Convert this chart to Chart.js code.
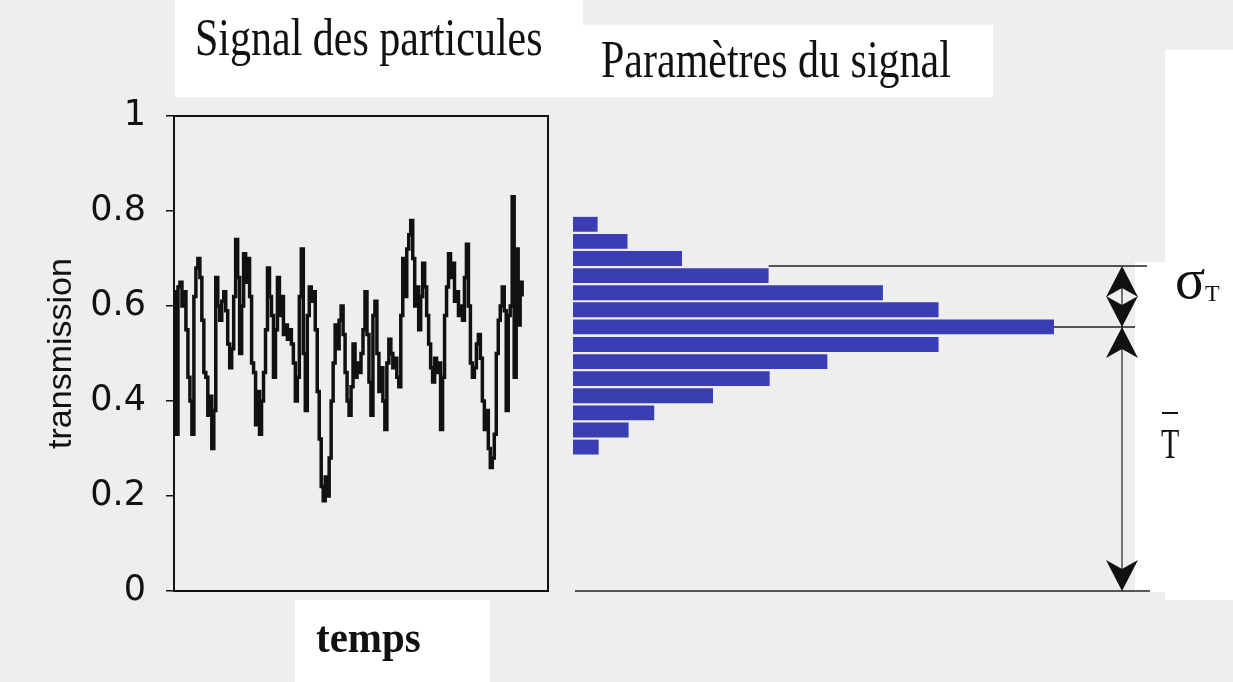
<!DOCTYPE html>
<html>
<head>
<meta charset="utf-8">
<script src="https://cdn.jsdelivr.net/npm/chart.js"></script>
<style>
  html, body { margin: 0; padding: 0; }
  body { width: 1233px; height: 682px; background: #eeeeec; position: relative; overflow: hidden; }
  .box { position: absolute; background: #ffffff; }
  .txt { position: absolute; line-height: 1; white-space: nowrap; color: #111; font-family: 'Liberation Serif', 'Times New Roman', serif; transform-origin: 0 0; }
  canvas { position: absolute; top: 0; }
</style>
</head>
<body>
<div class="box" style="left:175px;top:0;width:408px;height:97px"></div>
<div class="box" style="left:583px;top:25px;width:410px;height:72px"></div>
<div class="box" style="left:295px;top:600px;width:195px;height:82px"></div>
<div class="box" style="left:1165px;top:50px;width:68px;height:550px"></div>
<div class="box" style="left:1135px;top:262px;width:30px;height:330px"></div>

<canvas id="signalChart" width="560" height="682" style="left:0"></canvas>
<canvas id="histChart" width="673" height="682" style="left:560px"></canvas>

<div class="txt" style="left:195px;top:11px;font-size:42px;transform:scaleY(1.25)">Signal des particules</div>
<div class="txt" style="left:601px;top:33px;font-size:42px;transform:scaleY(1.25)">Paramètres du signal</div>
<div class="txt" style="left:316px;top:615px;font-size:41px;font-weight:bold;transform:scaleY(1.1)">temps</div>
<div class="txt" style="left:1175px;top:251px;font-size:56px">σ</div>
<div class="txt" style="left:1205px;top:281px;font-size:24px">T</div>
<div class="txt" style="left:1161px;top:423px;font-size:30px;transform:scaleY(1.4)">T</div>
<div style="position:absolute;left:1162px;top:412px;width:16px;height:2px;background:#111"></div>

<script>
// Signal values (transmission over time) left to right
const signalValues = [
    0.63, 0.33, 0.64, 0.65, 0.60, 0.63, 0.55, 0.45, 0.40, 0.33,
    0.62, 0.68, 0.70, 0.66, 0.57, 0.46, 0.45, 0.37, 0.41, 0.30,
    0.38, 0.66, 0.60, 0.57, 0.61, 0.63, 0.59, 0.52, 0.47, 0.51,
    0.62, 0.74, 0.66, 0.50, 0.60, 0.71, 0.65, 0.70, 0.62, 0.48,
    0.46, 0.35, 0.42, 0.33, 0.40, 0.46, 0.55, 0.68, 0.62, 0.58,
    0.45, 0.55, 0.66, 0.58, 0.62, 0.54, 0.56, 0.53, 0.55, 0.52,
    0.48, 0.40, 0.45, 0.62, 0.72, 0.50, 0.38, 0.58, 0.64, 0.61,
    0.63, 0.55, 0.42, 0.32, 0.22, 0.19, 0.24, 0.20, 0.28, 0.40,
    0.48, 0.56, 0.51, 0.57, 0.60, 0.54, 0.46, 0.40, 0.37, 0.43,
    0.52, 0.45, 0.48, 0.46, 0.50, 0.55, 0.63, 0.54, 0.44, 0.37,
    0.58, 0.61, 0.50, 0.42, 0.47, 0.40, 0.34, 0.48, 0.53, 0.50,
    0.47, 0.49, 0.45, 0.43, 0.58, 0.70, 0.62, 0.72, 0.75, 0.78,
    0.70, 0.60, 0.64, 0.55, 0.62, 0.69, 0.64, 0.58, 0.52, 0.47,
    0.44, 0.49, 0.46, 0.48, 0.34, 0.45, 0.58, 0.64, 0.71, 0.66,
    0.69, 0.61, 0.63, 0.58, 0.60, 0.57, 0.66, 0.73, 0.60, 0.48,
    0.45, 0.47, 0.52, 0.54, 0.49, 0.40, 0.34, 0.38, 0.30, 0.26,
    0.28, 0.33, 0.50, 0.57, 0.60, 0.64, 0.59, 0.38, 0.58, 0.60,
    0.83, 0.45, 0.72, 0.56, 0.65, 0.62
];

// Histogram of the signal: bin centres (transmission) and counts, top to bottom
const binCenters = [0.772, 0.736, 0.700, 0.664, 0.628, 0.592, 0.556, 0.519, 0.483, 0.447, 0.411, 0.375, 0.339, 0.303];
const binCounts = [2.3, 5.1, 10.2, 18.3, 29.0, 34.2, 45.0, 34.2, 23.8, 18.4, 13.1, 7.6, 5.2, 2.4];

// Signal parameters
const meanT = 0.556;
const sigmaT = 0.128;

// Y axis ticks
const yTickValues = [0, 0.2, 0.4, 0.6, 0.8, 1];
const yTickLabels = ['0', '0.2', '0.4', '0.6', '0.8', '1'];

const INK = '#111111';

// Frame around the signal plot
const framePlugin = {
    id: 'frame',
    afterDraw(chart) {
        const { ctx, chartArea: a } = chart;
        ctx.save();
        ctx.strokeStyle = INK;
        ctx.lineWidth = 2;
        ctx.strokeRect(a.left, a.top, a.right - a.left, a.bottom - a.top);
        ctx.restore();
    }
};

function arrowHead(ctx, x, tipY, dir) {
    // dir = -1 points up, +1 points down
    const len = 31, half = 16, notch = 9;
    ctx.beginPath();
    ctx.moveTo(x, tipY);
    ctx.lineTo(x - half, tipY - dir * len);
    ctx.lineTo(x, tipY - dir * (len - notch));
    ctx.lineTo(x + half, tipY - dir * len);
    ctx.closePath();
    ctx.fill();
}

// Mean / sigma reference lines and arrows on the histogram side
const paramPlugin = {
    id: 'params',
    afterDatasetsDraw(chart) {
        const { ctx } = chart;
        const xs = chart.scales.x, ys = chart.scales.y;
        const yZero = ys.getPixelForValue(0);
        const yMean = ys.getPixelForValue(meanT);
        const ySig = ys.getPixelForValue(meanT + sigmaT);
        const arrowX = 562;

        ctx.save();
        ctx.strokeStyle = '#222';
        ctx.lineWidth = 1.5;
        ctx.beginPath();
        ctx.moveTo(xs.getPixelForValue(0) + 2, yZero);
        ctx.lineTo(590, yZero);
        ctx.moveTo(xs.getPixelForValue(binCounts[3]), ySig);
        ctx.lineTo(587, ySig);
        ctx.moveTo(xs.getPixelForValue(Math.max(...binCounts)), yMean);
        ctx.lineTo(575, yMean);
        ctx.stroke();

        ctx.lineWidth = 1.2;
        ctx.beginPath();
        ctx.moveTo(arrowX, ySig + 10);
        ctx.lineTo(arrowX, yZero - 10);
        ctx.stroke();

        ctx.fillStyle = INK;
        arrowHead(ctx, arrowX, ySig, -1);
        arrowHead(ctx, arrowX, yMean, 1);
        arrowHead(ctx, arrowX, yMean, -1);
        arrowHead(ctx, arrowX, yZero, 1);
        ctx.restore();
    }
};

new Chart(document.getElementById('signalChart'), {
    type: 'line',
    data: {
        datasets: [{
            data: signalValues.map((v, i) => ({ x: i, y: v })),
            stepped: true,
            borderColor: INK,
            borderWidth: 3.5,
            pointRadius: 0
        }]
    },
    options: {
        responsive: false,
        animation: false,
        layout: { padding: { top: 116, bottom: 91, left: 0, right: 12 } },
        plugins: {
            legend: { display: false },
            tooltip: { enabled: false }
        },
        scales: {
            x: { type: 'linear', min: 0, max: 188, display: false },
            y: {
                min: 0,
                max: 1,
                afterBuildTicks(scale) {
                    scale.ticks = yTickValues.map(v => ({ value: v }));
                },
                afterFit(scale) {
                    scale.width = 174;
                },
                ticks: {
                    color: INK,
                    padding: 20,
                    font: { family: 'DejaVu Sans', size: 35 },
                    callback: (v) => yTickLabels[yTickValues.indexOf(v)]
                },
                grid: { drawOnChartArea: false, tickLength: 8, color: INK, lineWidth: 1.5 },
                border: { color: INK, width: 2 },
                title: {
                    display: true,
                    text: 'transmission',
                    color: INK,
                    font: { family: 'Liberation Sans', size: 34 },
                    padding: { top: 41, bottom: 0 }
                }
            }
        }
    },
    plugins: [framePlugin]
});

new Chart(document.getElementById('histChart'), {
    type: 'bar',
    data: {
        datasets: [{
            data: binCenters.map((c, i) => ({ x: binCounts[i], y: c })),
            backgroundColor: '#3a3db4',
            barPercentage: 0.87,
            categoryPercentage: 1
        }]
    },
    options: {
        indexAxis: 'y',
        responsive: false,
        animation: false,
        layout: { padding: { top: 116, bottom: 91, left: 13, right: 0 } },
        plugins: {
            legend: { display: false },
            tooltip: { enabled: false }
        },
        scales: {
            y: { type: 'linear', min: 0, max: 1, offset: false, display: false },
            x: { type: 'linear', min: 0, max: 61.75, display: false }
        }
    },
    plugins: [paramPlugin]
});
</script>
</body>
</html>
